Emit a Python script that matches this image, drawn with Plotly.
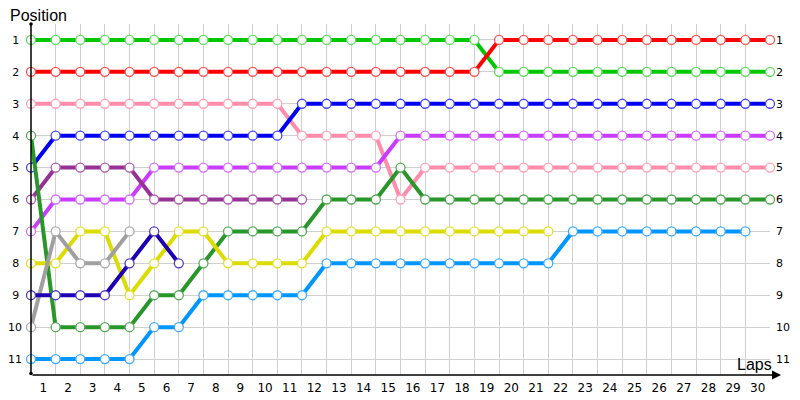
import plotly.graph_objects as go

# lap index 0 = start position, then laps 1..30
laps = list(range(31))
lap_labels = [str(i) for i in range(1, 31)]
positions = list(range(1, 12))

# finishing order per lap for each car (shorter list = retired)
green = [1] * 19 + [2] * 12
red = [2] * 19 + [1] * 12
pink = [3] * 11 + [4] * 4 + [6] + [5] * 15
blue = [5] + [4] * 10 + [3] * 20
magenta = [7, 6, 6, 6, 6] + [5] * 10 + [4] * 16
purple = [6, 5, 5, 5, 5, 6, 6, 6, 6, 6, 6, 6]
dkgreen = [4, 10, 10, 10, 10, 9, 9, 8, 7, 7, 7, 7, 6, 6, 6, 5] + [6] * 15
yellow = [8, 8, 7, 7, 9, 8, 7, 7, 8, 8, 8, 8] + [7] * 10
grey = [10, 7, 8, 8, 7]
navy = [9, 9, 9, 9, 8, 7, 8]
ltblue = [11, 11, 11, 11, 11, 10, 10, 9, 9, 9, 9, 9] + [8] * 10 + [7] * 8

cars = [
    ("Car A", green, "rgb(0,200,0)", "rgb(90,220,90)"),
    ("Car B", red, "rgb(255,0,0)", "rgb(255,80,80)"),
    ("Car C", pink, "rgb(255,140,170)", "rgb(255,160,185)"),
    ("Car D", blue, "rgb(0,0,240)", "rgb(70,70,255)"),
    ("Car E", magenta, "rgb(200,60,255)", "rgb(215,110,255)"),
    ("Car F", purple, "rgb(150,50,150)", "rgb(175,95,175)"),
    ("Car G", dkgreen, "rgb(40,150,40)", "rgb(85,170,85)"),
    ("Car H", yellow, "rgb(220,220,0)", "rgb(225,225,40)"),
    ("Car I", grey, "rgb(160,160,160)", "rgb(170,170,170)"),
    ("Car J", navy, "rgb(30,0,180)", "rgb(80,60,200)"),
    ("Car K", ltblue, "rgb(0,150,255)", "rgb(60,170,255)"),
]

fig = go.Figure()
for name, pos, col, edge in cars:
    fig.add_trace(go.Scatter(
        x=laps[:len(pos)], y=pos, name=name,
        mode="lines+markers",
        line=dict(color=col, width=4),
        marker=dict(size=9, color="white", line=dict(color=edge, width=1.3)),
        cliponaxis=False,
        showlegend=False,
    ))

# invisible trace so the label axis and right axis exist
fig.add_trace(go.Scatter(x=[laps[0]], y=[positions[0]], xaxis="x2", yaxis="y2",
                         mode="markers", marker=dict(opacity=0), showlegend=False,
                         hoverinfo="skip"))

grid = "rgb(208,208,208)"
tfont = dict(family="DejaVu Sans", size=11, color="black")
left_text = [f"{p}\u2005" if p < 10 else str(p) for p in positions]

# page body has an 8px margin, so the figure is a bit smaller than the window
fig.update_layout(
    width=792, height=392,
    margin=dict(l=23, r=30, t=16, b=25),
    paper_bgcolor="white", plot_bgcolor="white",
    xaxis=dict(range=[0, 30], tickvals=laps, showticklabels=False,
               showgrid=True, gridcolor=grid, gridwidth=1, zeroline=False,
               showline=False, automargin=False),
    xaxis2=dict(range=[0, 30], overlaying="x", anchor="y", side="bottom",
                tickvals=[i + 0.5 for i in range(30)], ticktext=lap_labels,
                showgrid=False, zeroline=False, ticks="", ticklabelstandoff=4,
                automargin=False,
                tickfont=dict(family="DejaVu Sans", size=12, color="black")),
    yaxis=dict(range=[11.5, 0.5], tickvals=positions, ticktext=left_text,
               showgrid=True, gridcolor=grid, gridwidth=1, zeroline=False,
               ticks="", ticklabelstandoff=8, tickfont=tfont, automargin=False),
    yaxis2=dict(range=[11.5, 0.5], overlaying="y", side="right", anchor="x",
                tickvals=positions, ticktext=[str(p) for p in positions],
                showgrid=False, zeroline=False, ticks="", ticklabelstandoff=5,
                tickfont=tfont, automargin=False),
    font=dict(family="DejaVu Sans", color="black"),
)

# axis lines drawn as arrows
fig.add_annotation(x=0, y=0.5, ax=0, ay=11.5, xref="x", yref="y", axref="x", ayref="y",
                   text="", showarrow=True, arrowhead=6, startarrowhead=6,
                   arrowside="end+start", arrowsize=0.6, arrowwidth=1.5, arrowcolor="black")
fig.add_annotation(x=30.45, y=11.5, ax=0, ay=11.5, xref="x", yref="y", axref="x", ayref="y",
                   text="", showarrow=True, arrowhead=2, arrowsize=1.2, arrowwidth=1.5,
                   arrowcolor="black")
fig.add_annotation(x=0, y=1, xref="paper", yref="paper", text="Position", showarrow=False,
                   xanchor="left", yanchor="bottom", xshift=-23, yshift=-2,
                   font=dict(family="Liberation Sans", size=16, color="black"))
fig.add_annotation(x=1, y=0, xref="paper", yref="paper", text="Laps", showarrow=False,
                   xanchor="right", yanchor="bottom", xshift=4, yshift=0,
                   font=dict(family="Liberation Sans", size=16, color="black"))

fig.write_html("out.html")
